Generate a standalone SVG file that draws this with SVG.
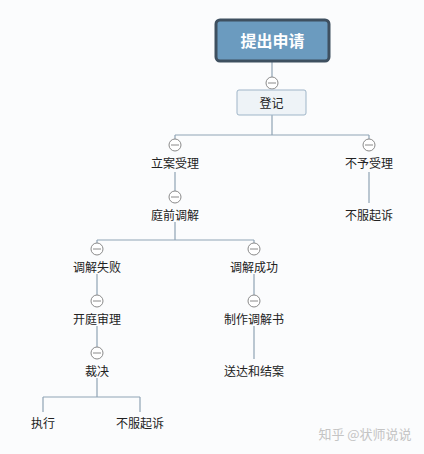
<svg xmlns="http://www.w3.org/2000/svg" width="424" height="454" viewBox="0 0 424 454">
<style>
.t{font-family:"Noto Sans CJK SC","Liberation Sans",sans-serif;font-size:12px;fill:#222;text-anchor:middle;dominant-baseline:central}
.c{fill:#fff;stroke:#8a8a8a;stroke-width:1}
.m{stroke:#8a8a8a;stroke-width:1}
.l{fill:none;stroke:#8fa3b5;stroke-width:1.2}
</style>
<defs>
<g id="tog"><circle class="c" r="6"/><line class="m" x1="-4" y1="0" x2="4" y2="0"/></g>
</defs>
<rect width="424" height="454" fill="#fbfcfd"/>
<g id="connectors">
<path class="l" d="M272 61V77M272 115V135M175 135H369M175 135V139M369 135V139"/>
<path class="l" d="M175 172V191M369 172V203"/>
<path class="l" d="M175 222V240M97 240H254M97 240V243M254 240V243"/>
<path class="l" d="M97 274V295M254 274V295"/>
<path class="l" d="M97 326V347M254 326V359"/>
<path class="l" d="M97 378V397M43 397H140M43 397V412M140 397V412"/>
</g>
<g id="n-tichu">
<rect x="216" y="20" width="113" height="41" rx="4" fill="#6b9bbf" stroke="#3e5060" stroke-width="3"/>
<text class="t" x="272.5" y="40" style="font-size:16px;font-weight:bold;fill:#fff">提出申请</text>
</g>
<use href="#tog" x="272" y="83"/>
<g id="n-dengji">
<rect x="237" y="90" width="69" height="25" rx="2" fill="#eef3f7" stroke="#9fb5c8" stroke-width="1"/>
<text class="t" x="271.5" y="102.5">登记</text>
</g>
<g id="n-lian"><use href="#tog" x="175" y="145"/><text class="t" x="175" y="162">立案受理</text></g>
<g id="n-buyu"><use href="#tog" x="369" y="145"/><text class="t" x="369" y="162">不予受理</text></g>
<g id="n-tingqian"><use href="#tog" x="175" y="197"/><text class="t" x="175" y="214">庭前调解</text></g>
<g id="n-bufu1"><text class="t" x="369" y="214">不服起诉</text></g>
<g id="n-shibai"><use href="#tog" x="97" y="249"/><text class="t" x="97" y="266">调解失败</text></g>
<g id="n-chenggong"><use href="#tog" x="254" y="249"/><text class="t" x="254" y="266">调解成功</text></g>
<g id="n-kaiting"><use href="#tog" x="97" y="301"/><text class="t" x="97" y="318">开庭审理</text></g>
<g id="n-zhizuo"><use href="#tog" x="254" y="301"/><text class="t" x="254" y="318">制作调解书</text></g>
<g id="n-caijue"><use href="#tog" x="97" y="353"/><text class="t" x="97" y="370">裁决</text></g>
<g id="n-songda"><text class="t" x="254" y="370">送达和结案</text></g>
<g id="n-zhixing"><text class="t" x="43" y="422">执行</text></g>
<g id="n-bufu2"><text class="t" x="140" y="422">不服起诉</text></g>
<text class="t" x="365" y="433" style="font-size:13px;fill:#c4c4c4">知乎 @状师说说</text>
</svg>
